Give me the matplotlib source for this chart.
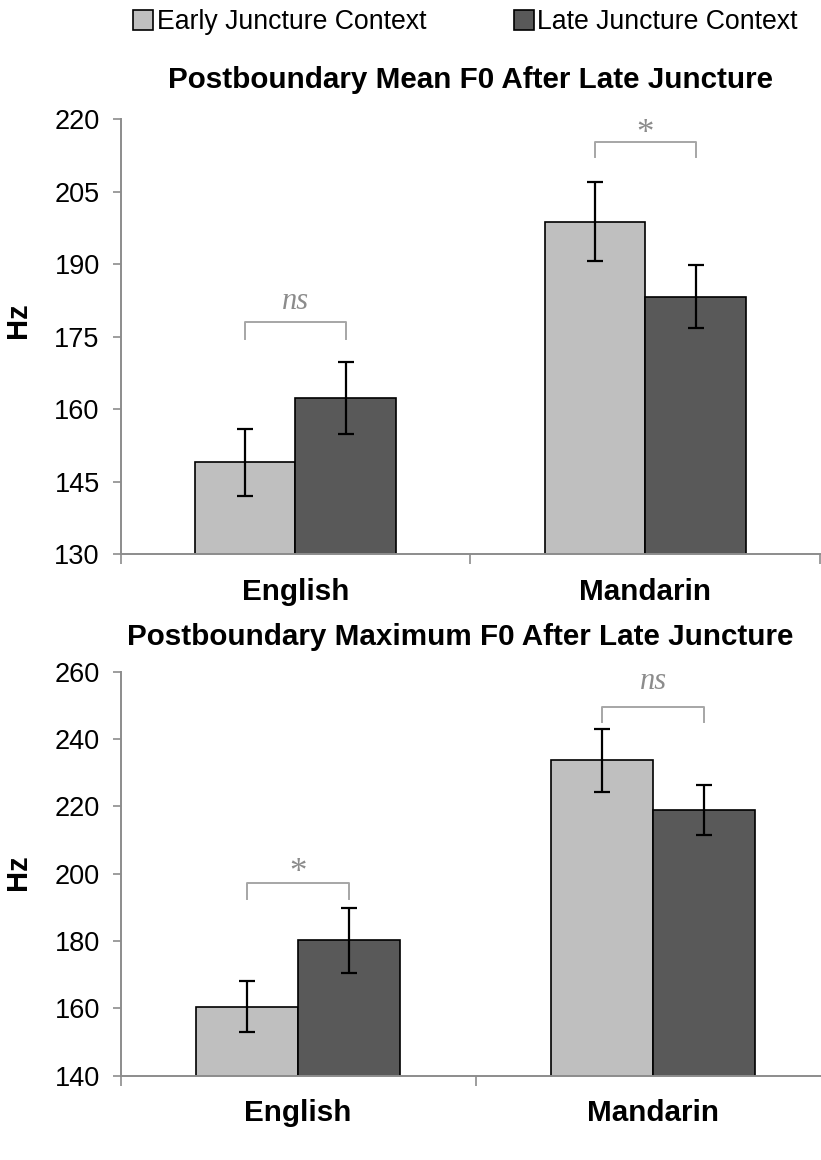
import numpy as np
import matplotlib
matplotlib.use("Agg")
import matplotlib.pyplot as plt

plt.rcParams['font.family'] = ['Liberation Sans', 'DejaVu Sans']

languages = ["English", "Mandarin"]
series_names = ["Early Juncture Context", "Late Juncture Context"]
series_colors = ["#bfbfbf", "#595959"]

# Postboundary mean F0 (Hz)
mean_early = [149.0, 198.8]
mean_early_err = [6.9, 8.2]
mean_late = [162.3, 183.3]
mean_late_err = [7.5, 6.5]

# Postboundary maximum F0 (Hz)
max_early = [160.5, 233.7]
max_early_err = [7.5, 9.3]
max_late = [180.2, 218.9]
max_late_err = [9.6, 7.5]

# significance labels per language: (label, bracket top, leg bottom, text y)
mean_sig = [("ns", 178.1, 174.5, 182.2), ("*", 215.3, 212.2, 216.8)]
max_sig = [("*", 197.2, 192.5, 200.2), ("ns", 249.6, 245.0, 257.2)]

fig = plt.figure(figsize=(8.21, 11.6), dpi=100)
ax1 = fig.add_axes([0.1468, 0.52241, 0.8524, 0.37474])
ax2 = fig.add_axes([0.1470, 0.07267, 0.8648, 0.34828])

w = 0.287
x = np.arange(len(languages))
spine_col = "#8c8c8c"


def draw(ax, early, early_err, late, late_err, sig, ylim, yticks, title, title_x, title_y, hz_xy):
    b1 = ax.bar(x - w / 2, early, w, color=series_colors[0], edgecolor="black", linewidth=1.2,
                label=series_names[0], zorder=2)
    b2 = ax.bar(x + w / 2, late, w, color=series_colors[1], edgecolor="black", linewidth=1.2,
                label=series_names[1], zorder=2)
    ax.errorbar(x - w / 2, early, yerr=early_err, fmt="none", ecolor="black", elinewidth=1.6,
                capsize=6, capthick=1.6, zorder=3)
    ax.errorbar(x + w / 2, late, yerr=late_err, fmt="none", ecolor="black", elinewidth=1.6,
                capsize=6, capthick=1.6, zorder=3)

    for i, (lab, top, leg, ty) in enumerate(sig):
        xl, xr = x[i] - w / 2, x[i] + w / 2
        ax.plot([xl, xl, xr, xr], [leg, top, top, leg], color="#a6a6a6", lw=1.4,
                clip_on=False, zorder=3)
        ax.text(x[i], ty, lab, ha="center", va="center", color="#8c8c8c",
                family="Liberation Serif", style="italic" if lab == "ns" else "normal",
                fontsize=22 if lab == "ns" else 25)

    ax.set_xlim(-0.5, 1.5)
    ax.set_ylim(*ylim)
    ax.set_yticks(yticks)
    ax.tick_params(axis="y", labelsize=19.5, length=6, width=1.2, color=spine_col, pad=9)
    ax.set_xticks([-0.5, 0.5, 1.5])
    ax.set_xticklabels([])
    ax.tick_params(axis="x", which="major", length=7, width=1.2, color=spine_col)
    ax.set_xticks(x, minor=True)
    ax.set_xticklabels(languages, minor=True, fontsize=21.3, fontweight="bold")
    ax.tick_params(axis="x", which="minor", length=0, pad=17)

    for s in ["top", "right"]:
        ax.spines[s].set_visible(False)
    for s in ["left", "bottom"]:
        ax.spines[s].set_color(spine_col)
        ax.spines[s].set_linewidth(1.4)

    ax.set_ylabel("Hz", fontsize=21, fontweight="bold")
    ax.yaxis.set_label_coords(*hz_xy)
    fig.text(title_x, title_y, title, ha="center", va="baseline", fontsize=21.3, fontweight="bold")
    return b1, b2


h1, h2 = draw(ax1, mean_early, mean_early_err, mean_late, mean_late_err, mean_sig,
              (130, 220), np.arange(130, 221, 15),
              "Postboundary Mean F0 After Late Juncture", 0.5725, 0.9239, (-0.126, 0.538))
draw(ax2, max_early, max_early_err, max_late, max_late_err, max_sig,
     (140, 260), np.arange(140, 261, 20),
     "Postboundary Maximum F0 After Late Juncture", 0.56, 0.4440, (-0.125, 0.504))

fig.legend([h1, h2], series_names, loc="center", bbox_to_anchor=(0.567, 0.981), ncol=2,
           frameon=False, fontsize=19.2, handlelength=0.75, handleheight=0.75,
           handletextpad=0.12, columnspacing=3.3)

fig.savefig("out.png", dpi=100, facecolor="white")
